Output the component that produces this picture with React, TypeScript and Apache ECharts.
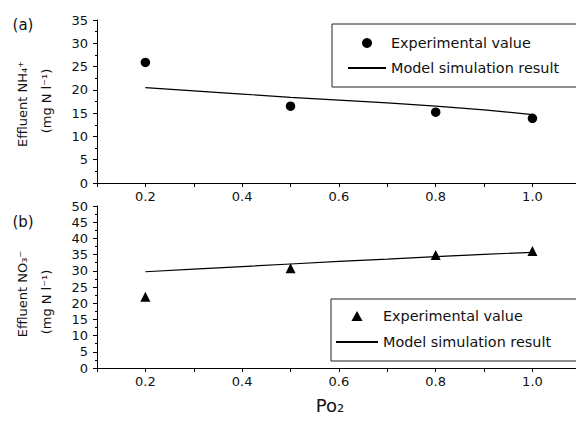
import React, { useEffect, useRef } from "react";
import * as echarts from "echarts";

// ---- data ----
const expX = [0.2, 0.5, 0.8, 1.0];
const nh4Experimental = [25.9, 16.5, 15.2, 13.9];
const no3Experimental = [22.0, 30.8, 34.9, 36.1];

const modelX = [0.2, 0.3, 0.4, 0.5, 0.6, 0.7, 0.8, 0.9, 1.0];
const nh4Model = [20.5, 19.8, 19.1, 18.4, 17.8, 17.2, 16.5, 15.7, 14.7];
const no3Model = [29.7, 30.5, 31.3, 32.1, 32.9, 33.6, 34.4, 35.1, 35.7];

const legendNames = ["Experimental value", "Model simulation result"];
const panelLabels = ["(a)", "(b)"];
const yTitlesTop = ["Effluent NH₄⁺", "(mg N l⁻¹)"];
const yTitlesBottom = ["Effluent NO₃⁻", "(mg N l⁻¹)"];
const xTitle = "Po₂";

const FONT = '"DejaVu Sans", Verdana, sans-serif';
const INK = "#111";

const zip = (xs: number[], ys: number[]) => xs.map((x, i) => [x, ys[i]]);

function xAxis(gridIndex: number) {
  return {
    type: "value",
    gridIndex,
    min: 0.1,
    max: 1.09,
    interval: 0.1,
    axisLine: { show: true, onZero: false, lineStyle: { color: "#000", width: 1 } },
    axisTick: { show: true, length: 4, lineStyle: { color: "#000" } },
    axisLabel: {
      margin: 7,
      fontSize: 13,
      fontFamily: FONT,
      color: INK,
      formatter: (v: number) => {
        const k = Math.round(v * 10);
        return k % 2 === 0 && k >= 2 && k <= 10 ? (k / 10).toFixed(1) : "";
      },
    },
    splitLine: { show: false },
  };
}

function yAxis(gridIndex: number, max: number) {
  return {
    type: "value",
    gridIndex,
    min: 0,
    max,
    interval: 5,
    axisLine: { show: true, lineStyle: { color: "#000", width: 1 } },
    axisTick: { show: true, length: 4, lineStyle: { color: "#000" } },
    minorTick: { show: true, splitNumber: 2, length: 2, lineStyle: { color: "#000" } },
    axisLabel: { margin: 9, fontSize: 13, fontFamily: FONT, color: INK },
    splitLine: { show: false },
    minorSplitLine: { show: false },
  };
}

export default function App() {
  const ref = useRef<HTMLDivElement>(null);

  useEffect(() => {
    if (!ref.current) return;
    const chart = echarts.init(ref.current, undefined, { renderer: "svg" });
    const legendText = { fontSize: 14.4, fontFamily: FONT, color: INK, lineHeight: 16 };
    const hiddenDot = { opacity: 0, color: "rgba(0,0,0,0)", borderWidth: 0 };
    const textStyle = (fontSize: number) => ({
      fontSize,
      fontFamily: FONT,
      fill: INK,
      align: "center",
      verticalAlign: "middle",
    });
    chart.setOption({
      animation: false,
      backgroundColor: "#fff",
      grid: [
        { left: 97, top: 20, height: 163, right: 0, outerBoundsMode: "none" },
        { left: 97, top: 206, height: 162, right: 0, outerBoundsMode: "none" },
      ],
      xAxis: [xAxis(0), xAxis(1)],
      yAxis: [yAxis(0, 35), yAxis(1, 50)],
      legend: [
        {
          orient: "vertical",
          left: 332,
          top: 24,
          padding: [11, 30, 11, 15],
          itemGap: 9,
          itemWidth: 38,
          itemHeight: 10,
          borderColor: "#222",
          borderWidth: 1,
          textStyle: legendText,
          data: [
            { name: legendNames[0], icon: "circle", itemStyle: { color: "#000", opacity: 1 } },
            { name: legendNames[1], itemStyle: hiddenDot },
          ],
        },
        {
          orient: "vertical",
          left: 331,
          top: 299,
          padding: [9, 30, 11, 4],
          itemGap: 10,
          itemWidth: 42,
          itemHeight: 10,
          borderColor: "#222",
          borderWidth: 1,
          textStyle: legendText,
          data: [
            { name: legendNames[0], icon: "path://M5,0L10,9L0,9Z", itemStyle: { color: "#000", opacity: 1 } },
            { name: legendNames[1], itemStyle: hiddenDot },
          ],
        },
      ],
      series: [
        {
          type: "scatter",
          name: legendNames[0],
          xAxisIndex: 0,
          yAxisIndex: 0,
          symbol: "circle",
          symbolSize: 9.5,
          itemStyle: { color: "#000", opacity: 1 },
          data: zip(expX, nh4Experimental),
        },
        {
          type: "line",
          name: legendNames[1],
          xAxisIndex: 0,
          yAxisIndex: 0,
          symbol: "none",
          lineStyle: { color: "#000", width: 1.2 },
          itemStyle: { color: "#000" },
          data: zip(modelX, nh4Model),
        },
        {
          type: "scatter",
          name: legendNames[0],
          xAxisIndex: 1,
          yAxisIndex: 1,
          symbol: "triangle",
          symbolSize: 10,
          itemStyle: { color: "#000", opacity: 1 },
          data: zip(expX, no3Experimental),
        },
        {
          type: "line",
          name: legendNames[1],
          xAxisIndex: 1,
          yAxisIndex: 1,
          symbol: "none",
          lineStyle: { color: "#000", width: 1.2 },
          itemStyle: { color: "#000" },
          data: zip(modelX, no3Model),
        },
      ],
      graphic: [
        { type: "text", x: 23, y: 25, style: { text: panelLabels[0], ...textStyle(15) } },
        { type: "text", x: 23, y: 222, style: { text: panelLabels[1], ...textStyle(15) } },
        { type: "text", x: 22, y: 104, rotation: Math.PI / 2, style: { text: yTitlesTop[0], ...textStyle(13) } },
        { type: "text", x: 46, y: 101, rotation: Math.PI / 2, style: { text: yTitlesTop[1], ...textStyle(13) } },
        { type: "text", x: 22, y: 294, rotation: Math.PI / 2, style: { text: yTitlesBottom[0], ...textStyle(13) } },
        { type: "text", x: 46, y: 302, rotation: Math.PI / 2, style: { text: yTitlesBottom[1], ...textStyle(13) } },
        { type: "text", x: 330, y: 405, style: { text: xTitle, ...textStyle(18) } },
      ],
    });
    return () => chart.dispose();
  }, []);

  return (
    <div
      ref={ref}
      style={{ position: "fixed", left: 0, top: 0, width: 576, height: 423, background: "#fff" }}
    />
  );
}
